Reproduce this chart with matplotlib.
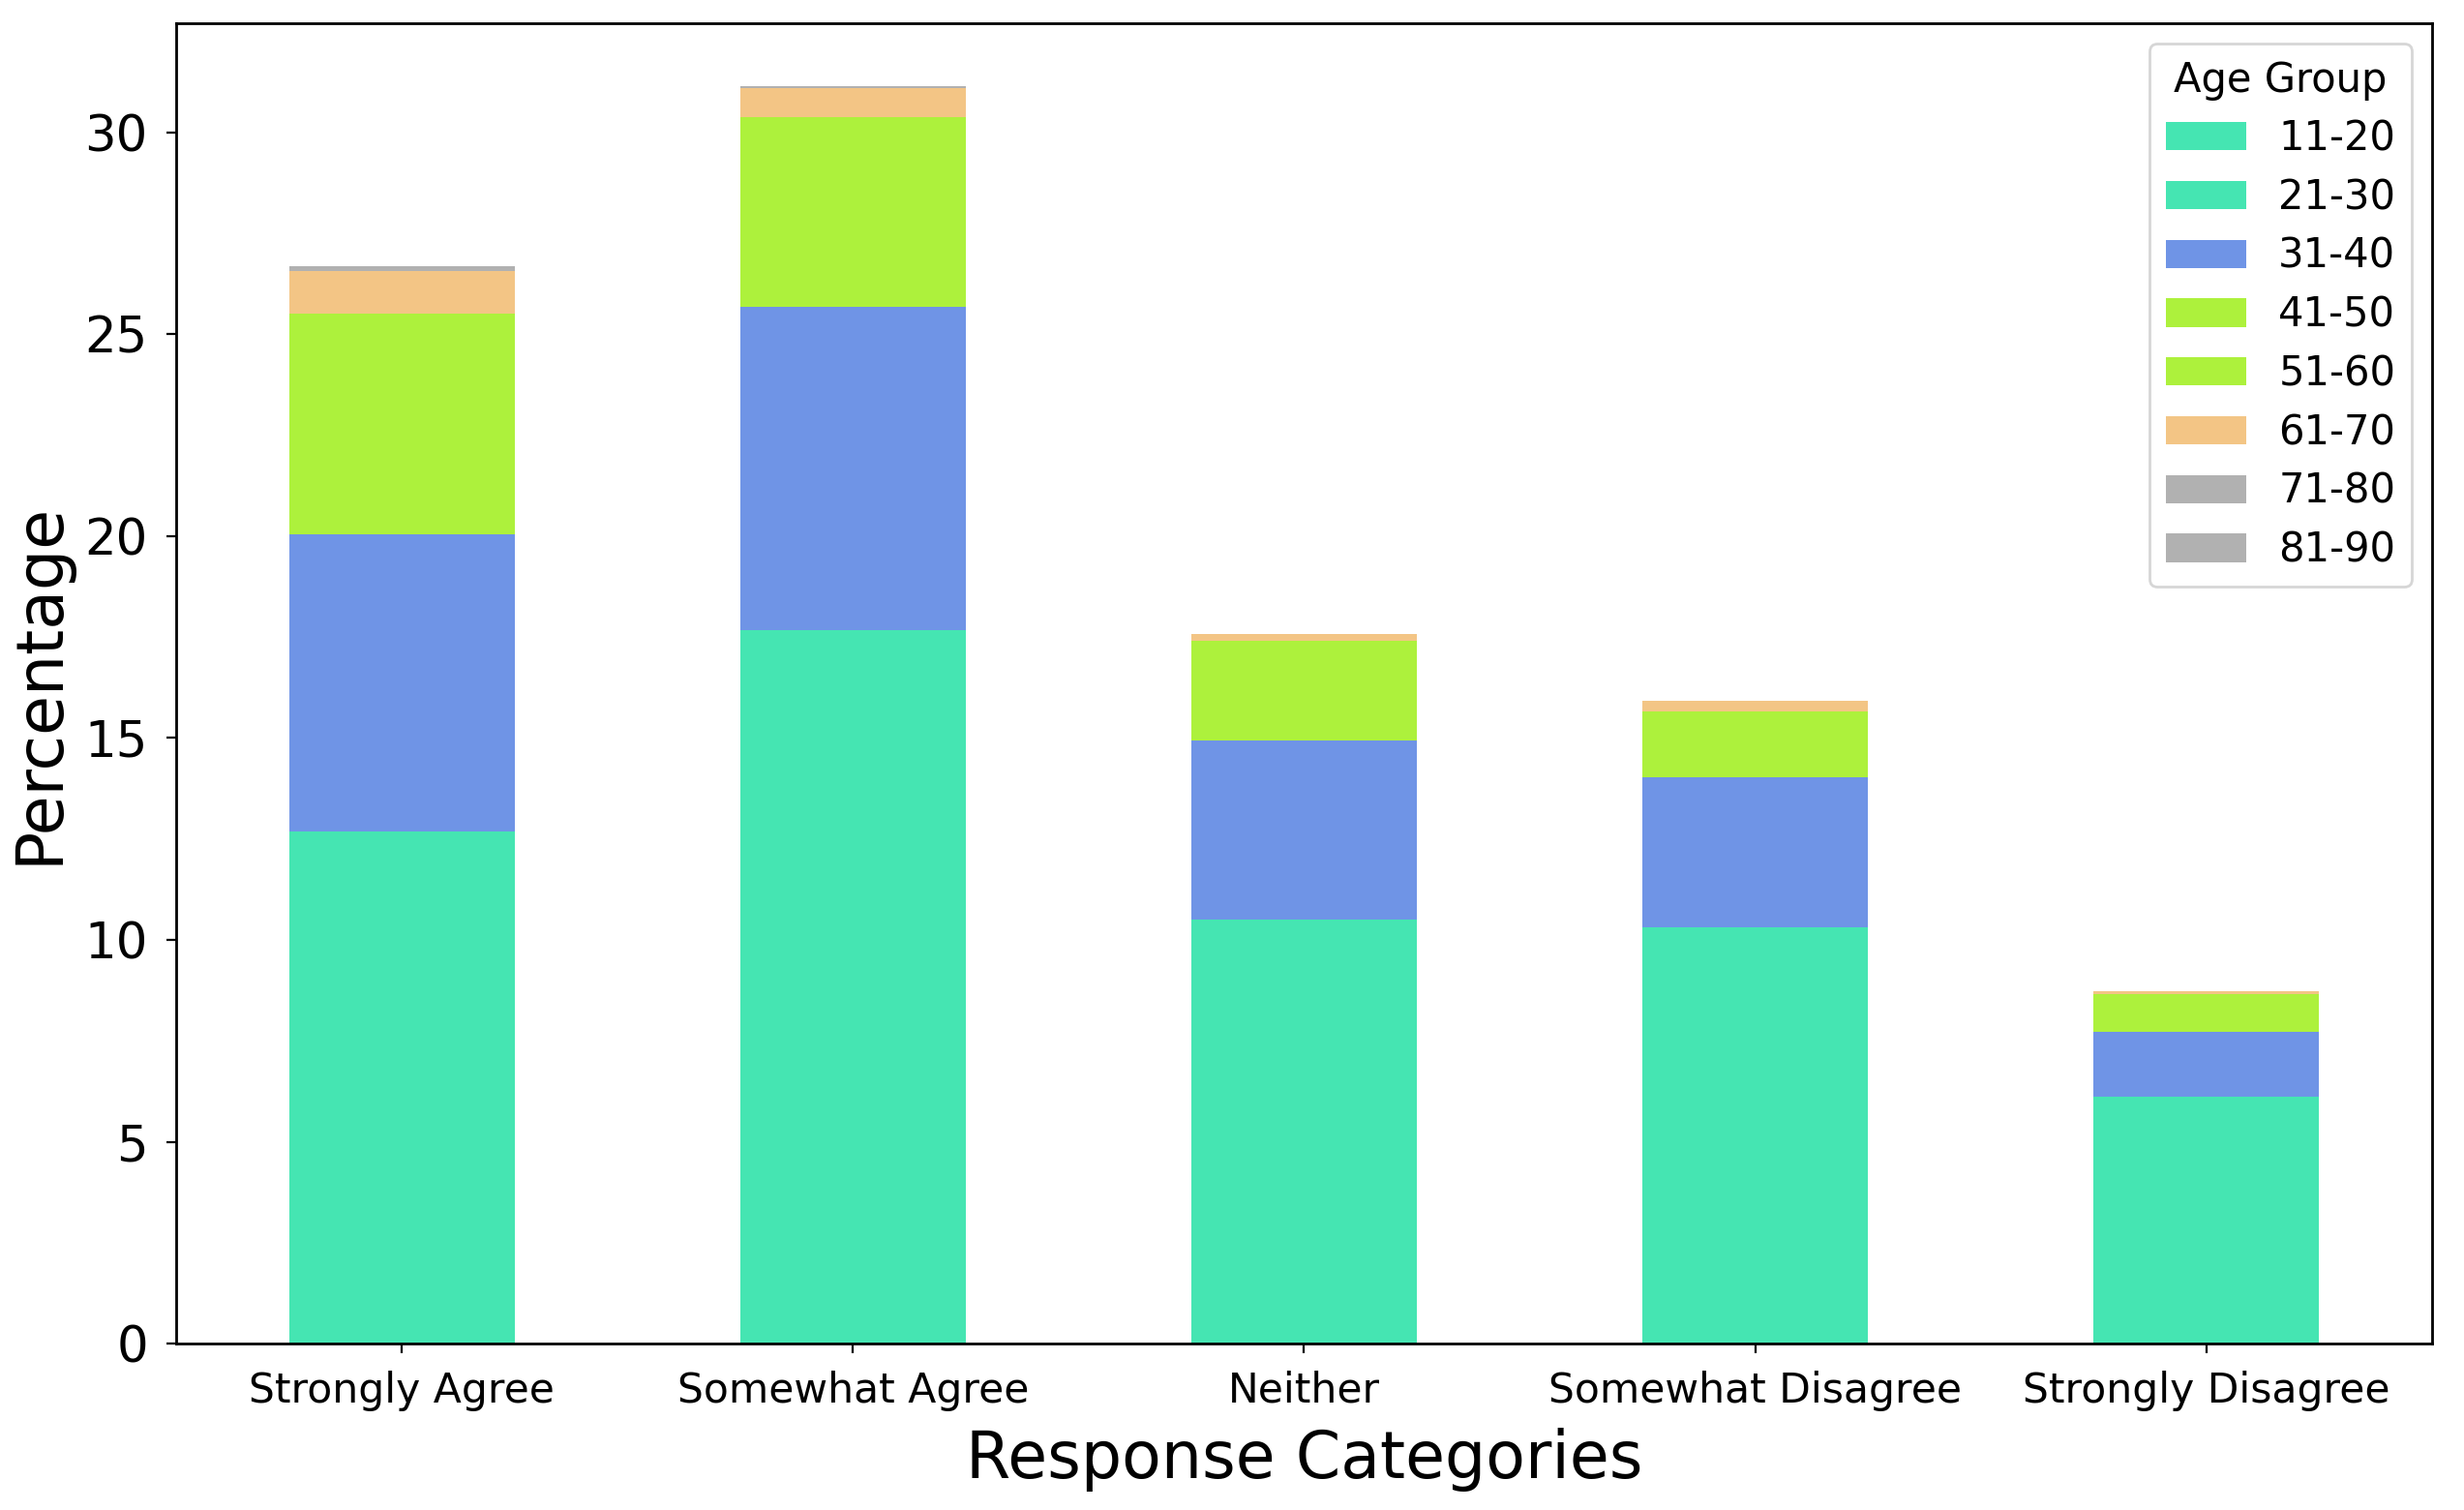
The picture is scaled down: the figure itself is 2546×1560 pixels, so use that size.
import numpy as np
import matplotlib
matplotlib.use('Agg')
import matplotlib.pyplot as plt

plt.rcParams['font.family'] = ['DejaVu Sans']

# response categories on the x axis
categories = ['Strongly Agree', 'Somewhat Agree', 'Neither',
              'Somewhat Disagree', 'Strongly Disagree']

# age groups (stack order, bottom to top)
age_groups = ['11-20', '21-30', '31-40', '41-50', '51-60', '61-70', '71-80', '81-90']

# percentage per age group, one value per category
age_11_20 = [12.68, 17.67, 10.51, 10.31, 6.11]
age_21_30 = [0.0, 0.0, 0.0, 0.0, 0.0]
age_31_40 = [7.36, 8.01, 4.43, 3.73, 1.61]
age_41_50 = [5.47, 4.69, 2.46, 1.62, 0.94]
age_51_60 = [0.0, 0.0, 0.0, 0.0, 0.0]
age_61_70 = [1.06, 0.72, 0.17, 0.27, 0.08]
age_71_80 = [0.12, 0.05, 0.0, 0.0, 0.0]
age_81_90 = [0.0, 0.0, 0.0, 0.0, 0.0]

series = [age_11_20, age_21_30, age_31_40, age_41_50,
          age_51_60, age_61_70, age_71_80, age_81_90]

colors = ['#45E5B2', '#45E5B2', '#6F94E6', '#ADF13C',
          '#ADF13C', '#F3C585', '#B1B1B1', '#B1B1B1']

fig = plt.figure(figsize=(12.73, 7.8), dpi=200)
ax = fig.add_axes([0.0715, 0.110, 0.9155, 0.8746])

x = np.arange(len(categories))
bottom = np.zeros(len(categories))
for label, vals, col in zip(age_groups, series, colors):
    vals = np.array(vals)
    ax.bar(x, vals, width=0.5, bottom=bottom, color=col, label=label)
    bottom = bottom + vals

# stacked bar sticky edges stop the top margin, so set it like pandas does
ax.set_ylim(0, bottom.max() * 1.05)
ax.set_xlim(-0.5, len(categories) - 0.5)
ax.set_xticks(x)
ax.set_xticklabels(categories, fontsize=15.3)
ax.tick_params(axis='x', pad=6.4)
ax.tick_params(axis='y', labelsize=18.5, pad=7)
ax.set_xlabel('Response Categories', fontsize=24, labelpad=6)
ax.set_ylabel('Percentage', fontsize=24, labelpad=5)

for sp in ax.spines.values():
    sp.set_linewidth(1.0)

leg = ax.legend(title='Age Group', loc='upper right', fontsize=15,
                title_fontsize=15, labelspacing=0.45)

fig.savefig('out.png', dpi=200)
